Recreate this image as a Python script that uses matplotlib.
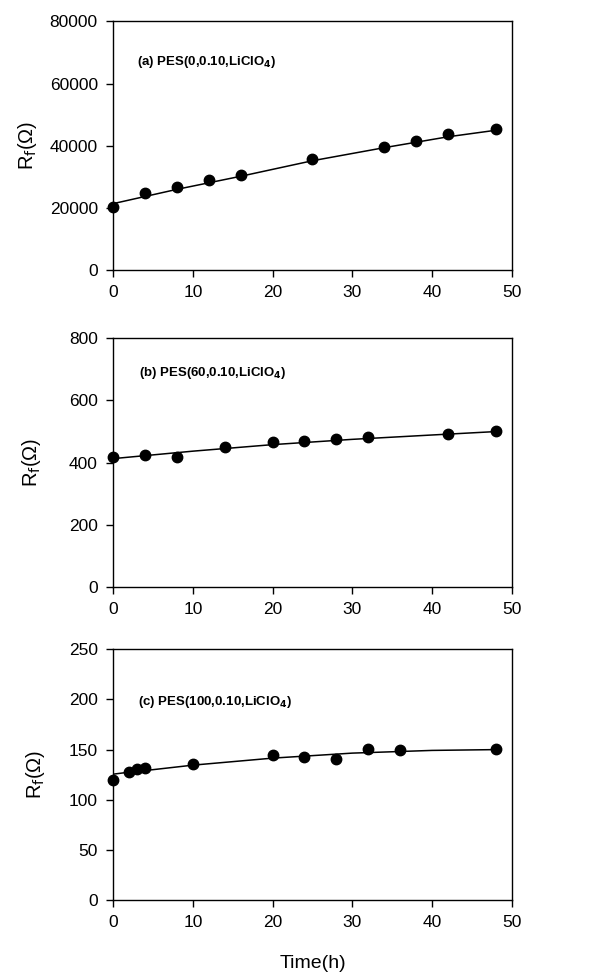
import numpy as np
import matplotlib
matplotlib.use('Agg')
import matplotlib.pyplot as plt

plt.rcParams['font.family'] = ['Liberation Sans', 'DejaVu Sans']

# panel (a) PES(0,0.10,LiClO4)
time_a = [0, 4, 8, 12, 16, 25, 34, 38, 42, 48]
rf_a = [20400, 24800, 26700, 28900, 30500, 35600, 39700, 41700, 43700, 45300]
fit_time_a = [0, 8, 16, 25, 34, 42, 48]
fit_rf_a = [21400, 26000, 30200, 35200, 39400, 42900, 45000]

# panel (b) PES(60,0.10,LiClO4)
time_b = [0, 4, 8, 14, 20, 24, 28, 32, 42, 48]
rf_b = [418, 426, 419, 451, 466, 471, 477, 483, 491, 503]
fit_time_b = [0, 10, 20, 30, 40, 48]
fit_rf_b = [413, 437, 458, 475, 489, 500]

# panel (c) PES(100,0.10,LiClO4)
time_c = [0, 2, 3, 4, 10, 20, 24, 28, 32, 36, 48]
rf_c = [120, 128, 131, 132, 135.5, 145, 142.5, 141, 151, 149.5, 150.3]
fit_time_c = [0, 2, 5, 10, 20, 30, 40, 48]
fit_rf_c = [125.5, 127.5, 130, 134.5, 141.5, 146.5, 149.2, 150]

labels = ['(a) PES(0,0.10,LiClO$_\\mathbf{4}$)',
          '(b) PES(60,0.10,LiClO$_\\mathbf{4}$)',
          '(c) PES(100,0.10,LiClO$_\\mathbf{4}$)']

fig = plt.figure(figsize=(5.89, 9.72), dpi=100)

panels = [
    ([0.192, 0.722, 0.677, 0.256], time_a, rf_a, fit_time_a, fit_rf_a, (0, 80000), np.arange(0, 80001, 20000), (0.06, 0.835), -0.185),
    ([0.192, 0.396, 0.677, 0.256], time_b, rf_b, fit_time_b, fit_rf_b, (0, 800), np.arange(0, 801, 200), (0.065, 0.86), -0.177),
    ([0.192, 0.074, 0.677, 0.258], time_c, rf_c, fit_time_c, fit_rf_c, (0, 250), np.arange(0, 251, 50), (0.063, 0.79), -0.165),
]

for i, (pos, t, r, ft, fr, ylim, yticks, txt, ylx) in enumerate(panels):
    ax = fig.add_axes(pos)
    ax.plot(ft, fr, color='black', lw=1.1)
    ax.plot(t, r, 'o', color='black', markersize=7.5, clip_on=False, zorder=3)
    ax.set_xlim(0, 50)
    ax.set_ylim(*ylim)
    ax.set_xticks(np.arange(0, 51, 10))
    ax.set_yticks(yticks)
    ax.tick_params(direction='out', length=5, width=1, labelsize=12.5, pad=6)
    for s in ax.spines.values():
        s.set_linewidth(1)
    ax.set_ylabel('R$_\\mathsf{f}$(\u03a9)', fontsize=14.5)
    ax.yaxis.set_label_coords(ylx, 0.5)
    ax.text(txt[0], txt[1], labels[i], transform=ax.transAxes, fontsize=9.5,
            fontweight='bold', va='center', ha='left')
    if i == 2:
        ax.set_xlabel('Time(h)', fontsize=14, labelpad=18)

fig.savefig('out.png', dpi=100)
